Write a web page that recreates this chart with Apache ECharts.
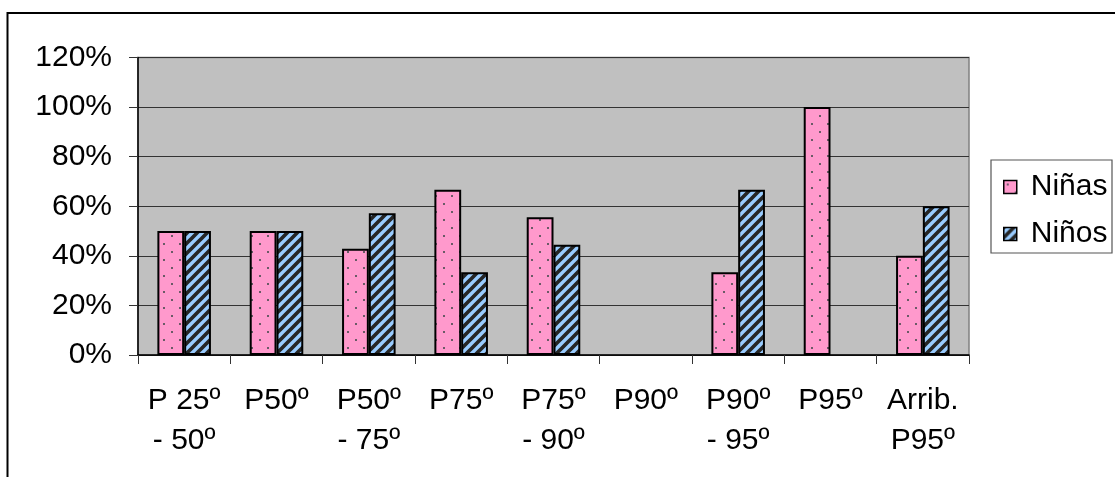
<!DOCTYPE html>
<html>
<head>
<meta charset="utf-8">
<script src="https://cdn.jsdelivr.net/npm/echarts@6/dist/echarts.min.js"></script>
<style>
html,body{margin:0;padding:0;background:#fff;}
#chart{width:1115px;height:477px;}
</style>
</head>
<body>
<div id="chart"></div>
<script>
const categories = ["P 25º\n- 50º", "P50º", "P50º\n- 75º", "P75º", "P75º\n- 90º", "P90º", "P90º\n- 95º", "P95º", "Arrib.\nP95º"];
const ninas = [0.5, 0.5, 0.4286, 0.6667, 0.5556, null, 0.3333, 1.0, 0.4];
const ninos = [0.5, 0.5, 0.5714, 0.3333, 0.4444, null, 0.6667, null, 0.6];
const seriesNames = ["Niñas", "Niños"];
const yTicks = { min: 0, max: 1.2, interval: 0.2 };

function dotPattern() {
  const c = document.createElement('canvas');
  c.width = 16; c.height = 16;
  const g = c.getContext('2d');
  g.fillStyle = '#FF99CC'; g.fillRect(0, 0, 16, 16);
  g.fillStyle = '#6a5a66';
  g.fillRect(3, 3, 2, 2);
  g.fillRect(11, 11, 2, 2);
  return { image: c, repeat: 'repeat' };
}
function stripePattern() {
  const s = 10;
  const c = document.createElement('canvas');
  c.width = s; c.height = s;
  const g = c.getContext('2d');
  g.fillStyle = '#99CCFF'; g.fillRect(0, 0, s, s);
  g.strokeStyle = '#262626';
  g.lineWidth = 3.7;
  g.beginPath();
  g.moveTo(-2, s + 2); g.lineTo(s + 2, -2);
  g.moveTo(-s, s); g.lineTo(s, -s);
  g.moveTo(0, 2 * s); g.lineTo(2 * s, 0);
  g.stroke();
  return { image: c, repeat: 'repeat' };
}

const FONT = '"Liberation Sans", Arial, sans-serif';
const FS = 30;
const chart = echarts.init(document.getElementById('chart'), null, { renderer: 'canvas' });
chart.setOption({
  animation: false,
  backgroundColor: '#fff',
  grid: {
    left: 138, right: 146, top: 57.5, bottom: 122,
    show: true, backgroundColor: '#C0C0C0', borderColor: '#808080', borderWidth: 1.5
  },
  legend: {
    orient: 'vertical',
    left: 998, top: 166,
    itemWidth: 13, itemHeight: 13, itemGap: 15,
    icon: 'rect',
    itemStyle: { borderColor: '#000', borderWidth: 1.5 },
    textStyle: { fontFamily: FONT, fontSize: FS, color: '#000', lineHeight: 32, padding: [0, 0, 0, 9] },
    data: seriesNames
  },
  xAxis: {
    type: 'category',
    data: categories,
    axisLine: { lineStyle: { color: '#000', width: 1.5 } },
    axisTick: { show: true, length: 9, alignWithLabel: false, lineStyle: { color: '#333', width: 1 } },
    axisLabel: { fontFamily: FONT, fontSize: FS, color: '#000', lineHeight: 40, margin: 26, interval: 0 },
    splitLine: { show: false }
  },
  yAxis: {
    type: 'value',
    min: yTicks.min, max: yTicks.max, interval: yTicks.interval,
    axisLine: { show: true, lineStyle: { color: '#000', width: 1.5 } },
    axisTick: { show: true, length: 9, lineStyle: { color: '#333' } },
    axisLabel: {
      fontFamily: FONT, fontSize: FS, color: '#000', margin: 26,
      formatter: v => Math.round(v * 100) + '%'
    },
    splitLine: { show: true, lineStyle: { color: '#333', width: 1.2 } }
  },
  series: [
    {
      name: seriesNames[0], type: 'bar', data: ninas,
      barCategoryGap: '42%', barGap: '0%',
      itemStyle: { color: dotPattern(), borderColor: '#000', borderWidth: 2 }
    },
    {
      name: seriesNames[1], type: 'bar', data: ninos,
      barCategoryGap: '42%', barGap: '0%',
      itemStyle: { color: stripePattern(), borderColor: '#000', borderWidth: 2 }
    }
  ],
  graphic: [
    { type: 'rect', silent: true, shape: { x: 7.5, y: 13, width: 1200, height: 600 },
      style: { fill: 'none', stroke: '#000', lineWidth: 2 } },
    { type: 'rect', silent: true, shape: { x: 991, y: 160, width: 121, height: 93 },
      style: { fill: 'none', stroke: '#555', lineWidth: 1.2 } }
  ]
});
</script>
</body>
</html>
